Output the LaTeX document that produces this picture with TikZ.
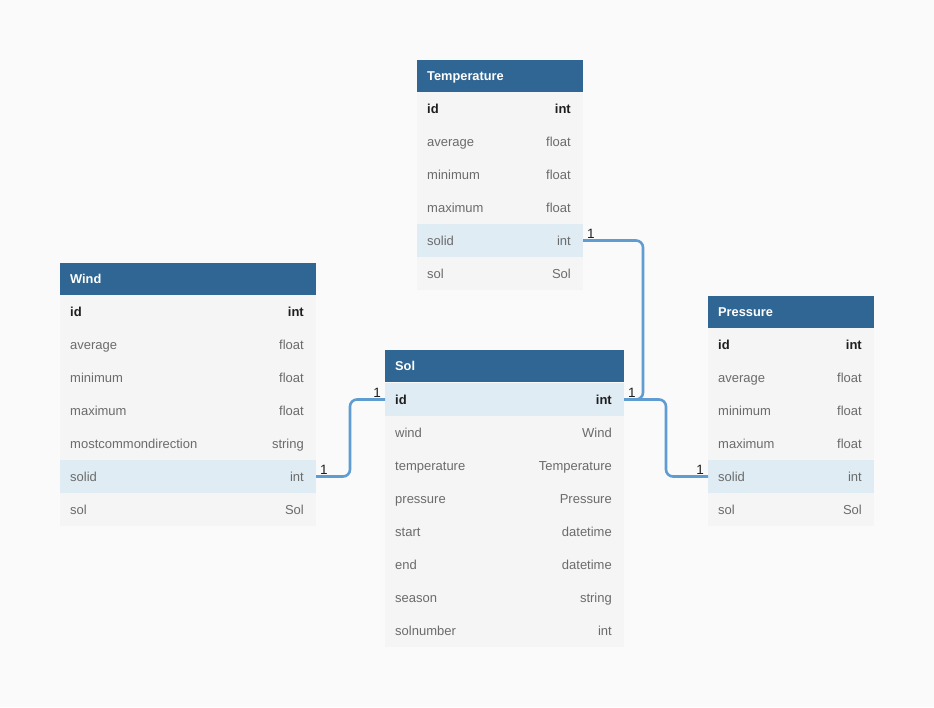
\documentclass[tikz,border=0pt]{standalone}
\usepackage{fontspec}
\setmainfont{Liberation Sans}
\definecolor{bg}{HTML}{FAFAFA}
\definecolor{hdr}{HTML}{2F6693}
\definecolor{rowc}{HTML}{F5F5F5}
\definecolor{hlc}{HTML}{DFECF4}
\definecolor{txtg}{HTML}{6B6B6B}
\definecolor{txtd}{HTML}{1E1E1E}
\definecolor{linkc}{HTML}{5F9CD2}
\tikzset{
 cell/.style={anchor=north west, minimum height=33pt, inner sep=0pt, outer sep=0pt, fill=rowc},
 hl/.style={fill=hlc},
 plain/.style={},
 head/.style={anchor=north west, minimum height=32pt, inner sep=0pt, outer sep=0pt, fill=hdr},
 htxt/.style={anchor=base west, inner sep=0pt, text=white, font=\bfseries\fontsize{12.8}{14}\selectfont},
 ftxt/.style={text=txtg, font=\fontsize{13}{15}\selectfont},
 ktxt/.style={text=txtd, font=\bfseries\fontsize{13}{15}\selectfont},
 linkline/.style={draw=linkc, line width=2.6pt, rounded corners=7pt},
 card/.style={text=txtd, inner sep=0pt, font=\fontsize{13.5}{15}\selectfont}
}
\newcommand\ehead[5]{%
 \node[head, minimum width=#4pt] (#1) at (#2,#3) {};
 \node[htxt] at ([xshift=10pt,yshift=-4.5pt]#1.west) {#5};}
\newcommand\erow[8]{%
 \node[cell, minimum width=#4pt, #7] (#1) at (#2,#3) {};
 \node[anchor=base west, inner sep=0pt, #8] at ([xshift=10pt,yshift=-4.6pt]#1.west) {#5};
 \node[anchor=base east, inner sep=0pt, #8] at ([xshift=-12pt,yshift=-4.6pt]#1.east) {#6};}
\begin{document}
\begin{tikzpicture}[x=1pt,y=-1pt]
\fill[bg] (0,0) rectangle (934,707);
\useasboundingbox (0,0) rectangle (934,707);
% Temperature
\ehead{th}{417}{60}{166}{Temperature}
\erow{tid}{417}{92}{166}{id}{int}{plain}{ktxt}
\erow{tavg}{417}{125}{166}{average}{float}{plain}{ftxt}
\erow{tmin}{417}{158}{166}{minimum}{float}{plain}{ftxt}
\erow{tmax}{417}{191}{166}{maximum}{float}{plain}{ftxt}
\erow{tsolid}{417}{224}{166}{solid}{int}{hl}{ftxt}
\erow{tsol}{417}{257}{166}{sol}{Sol}{plain}{ftxt}
% Wind
\ehead{wh}{60}{263}{256}{Wind}
\erow{wid}{60}{295}{256}{id}{int}{plain}{ktxt}
\erow{wavg}{60}{328}{256}{average}{float}{plain}{ftxt}
\erow{wmin}{60}{361}{256}{minimum}{float}{plain}{ftxt}
\erow{wmax}{60}{394}{256}{maximum}{float}{plain}{ftxt}
\erow{wdir}{60}{427}{256}{mostcommondirection}{string}{plain}{ftxt}
\erow{wsolid}{60}{460}{256}{solid}{int}{hl}{ftxt}
\erow{wsol}{60}{493}{256}{sol}{Sol}{plain}{ftxt}
% Sol
\ehead{sh}{385}{350}{239}{Sol}
\erow{sid}{385}{383}{239}{id}{int}{hl}{ktxt}
\erow{swind}{385}{416}{239}{wind}{Wind}{plain}{ftxt}
\erow{stemp}{385}{449}{239}{temperature}{Temperature}{plain}{ftxt}
\erow{spres}{385}{482}{239}{pressure}{Pressure}{plain}{ftxt}
\erow{sstart}{385}{515}{239}{start}{datetime}{plain}{ftxt}
\erow{send}{385}{548}{239}{end}{datetime}{plain}{ftxt}
\erow{sseason}{385}{581}{239}{season}{string}{plain}{ftxt}
\erow{snum}{385}{614}{239}{solnumber}{int}{plain}{ftxt}
% Pressure
\ehead{ph}{708}{296}{166}{Pressure}
\erow{pid}{708}{328}{166}{id}{int}{plain}{ktxt}
\erow{pavg}{708}{361}{166}{average}{float}{plain}{ftxt}
\erow{pmin}{708}{394}{166}{minimum}{float}{plain}{ftxt}
\erow{pmax}{708}{427}{166}{maximum}{float}{plain}{ftxt}
\erow{psolid}{708}{460}{166}{solid}{int}{hl}{ftxt}
\erow{psol}{708}{493}{166}{sol}{Sol}{plain}{ftxt}
% connectors
\draw[linkline] (tsolid.east) -- ++(60pt,0pt) |- (sid.east);
\draw[linkline] (wsolid.east) -- ++(34pt,0pt) |- (sid.west);
\draw[linkline] (sid.east) -- ++(42pt,0pt) |- (psolid.west);
% cardinalities
\node[card, anchor=base west] (c1) at ([xshift=4pt,yshift=2pt]tsolid.east) {1};
\node[card, anchor=base west] (c2) at ([xshift=4pt,yshift=2pt]sid.east) {1};
\node[card, anchor=base east] (c3) at ([xshift=-4pt,yshift=2pt]sid.west) {1};
\node[card, anchor=base west] (c4) at ([xshift=4pt,yshift=2pt]wsolid.east) {1};
\node[card, anchor=base east] (c5) at ([xshift=-4pt,yshift=2pt]psolid.west) {1};
\end{tikzpicture}
\end{document}
